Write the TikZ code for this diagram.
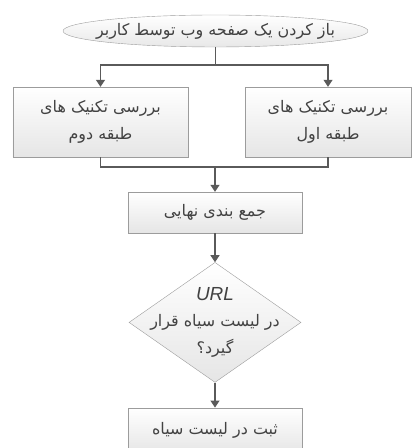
\documentclass[tikz,border=0pt]{standalone}
\usepackage{fontspec}
\setmainfont{DejaVu Sans}
\newfontfamily\farsifont[Script=Arabic]{DejaVu Sans}
\newfontfamily\latinfont{Liberation Sans}
\TeXXeTstate=1
\usetikzlibrary{shapes.geometric, arrows.meta, positioning}
\newcommand{\fa}[1]{{\farsifont\beginR #1\endR}}
\definecolor{edgegray}{HTML}{9C9C9C}
\definecolor{linegray}{HTML}{5A5A5A}
\definecolor{textgray}{HTML}{424242}
\tikzstyle{startstop} = [ellipse, 
minimum width=305bp, 
minimum height=32bp, 
inner xsep=-24bp, inner ysep=-4bp, 
draw=edgegray, 
top color=white, bottom color=gray!18, 
text=textgray]
\tikzstyle{process} = [rectangle, 
minimum height=70bp, 
text centered, 
align=center, 
draw=edgegray, 
top color=white, bottom color=gray!20, 
text=textgray]
\tikzstyle{decision} = [diamond, 
minimum width=172bp, 
minimum height=120bp, 
inner sep=-28bp, 
align=center, 
draw=edgegray, 
top color=white, bottom color=gray!20, 
text=textgray]
\tikzstyle{arrow} = [-{Triangle[width=9bp,length=7bp]}, draw=linegray, line width=1.1bp]
\tikzstyle{link} = [draw=linegray, line width=1.1bp]

\begin{document}
\begin{tikzpicture}[x=1bp, y=1bp, font=\fontsize{16}{27}\selectfont]
\useasboundingbox (0,0) rectangle (411,448);

\node (start) [startstop] at (215.5,417) {\fa{باز کردن یک صفحه وب توسط کاربر}};

\node (left) [process, minimum width=175bp] at (100.5,326) {\fa{بررسی تکنیک های}\\\fa{طبقه دوم}};
\node (right) [process, minimum width=166bp] at (328,326) {\fa{بررسی تکنیک های}\\\fa{طبقه اول}};

\node (summary) [process, minimum width=174bp, minimum height=41bp] at (215,235.5) {\fa{جمع بندی نهایی}};
\node (check) [decision, below=29bp of summary] {{\latinfont\itshape\fontsize{19}{27}\selectfont URL}\\\fa{در لیست سیاه قرار}\\\fa{گیرد؟}};
\node (record) [process, minimum width=174bp, minimum height=46bp, below=25bp of check] {\fa{ثبت در لیست سیاه}};

\coordinate (split) at (215.5,383);
\coordinate (merge) at (215,281);

\draw[link] (start.south) -- (split);
\draw[arrow] (split) -| (left.north);
\draw[arrow] (split) -| (right.north);
\draw[link] (left.south) |- (merge);
\draw[link] (right.south) |- (merge);
\draw[arrow] (merge) -- (summary.north);
\draw[arrow] (summary) -- (check);
\draw[arrow] (check) -- (record);

\end{tikzpicture}
\end{document}
